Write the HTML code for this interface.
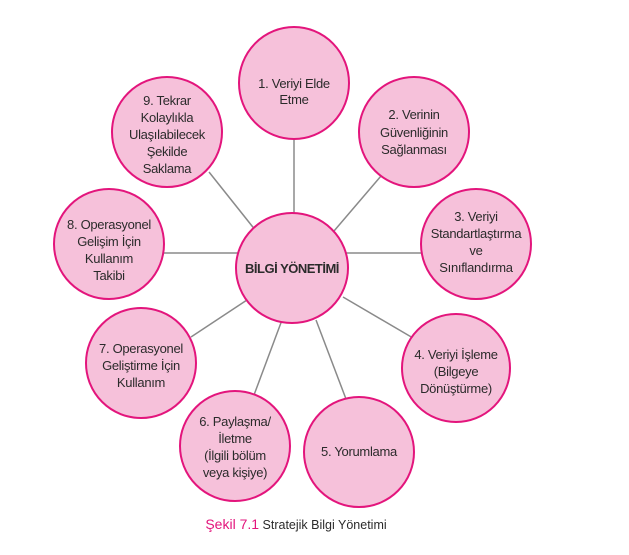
<!DOCTYPE html>
<html><head><meta charset="utf-8"><style>
body{margin:0;background:#fff;}
svg text{font-family:"Liberation Sans Narrow","Liberation Sans",sans-serif;font-size:13px;fill:#2b2b2b;text-anchor:middle;letter-spacing:-0.3px;}
</style></head><body>
<svg width="629" height="550" viewBox="0 0 629 550" xmlns="http://www.w3.org/2000/svg">
<g stroke="#8a8a8a" stroke-width="1.5">
<line x1="294" y1="139" x2="294" y2="215"/>
<line x1="381" y1="176" x2="334" y2="231"/>
<line x1="209" y1="172" x2="256" y2="231"/>
<line x1="164" y1="253" x2="240" y2="253"/>
<line x1="346" y1="253" x2="424" y2="253"/>
<line x1="191" y1="337" x2="250" y2="298"/>
<line x1="254" y1="395" x2="282" y2="320"/>
<line x1="346" y1="399" x2="316" y2="320"/>
<line x1="413" y1="338" x2="343" y2="297"/>
</g>
<g fill="#f6c1da" stroke="#e3157c" stroke-width="2">
<ellipse cx="294" cy="83" rx="55" ry="56"/>
<ellipse cx="414" cy="132" rx="55" ry="55"/>
<ellipse cx="476" cy="244" rx="55" ry="55"/>
<ellipse cx="456" cy="368" rx="54" ry="54"/>
<ellipse cx="359" cy="452" rx="55" ry="55"/>
<ellipse cx="235" cy="446" rx="55" ry="55"/>
<ellipse cx="141" cy="363" rx="55" ry="55"/>
<ellipse cx="109" cy="244" rx="55" ry="55"/>
<ellipse cx="167" cy="132" rx="55" ry="55"/>
<ellipse cx="292" cy="268" rx="56" ry="55"/>
</g>
<text x="294" y="88">1. Veriyi Elde</text>
<text x="294" y="104">Etme</text>
<text x="414" y="119">2. Verinin</text>
<text x="414" y="137">Güvenliğinin</text>
<text x="414" y="154">Sağlanması</text>
<text x="476" y="221">3. Veriyi</text>
<text x="476" y="238">Standartlaştırma</text>
<text x="476" y="255">ve</text>
<text x="476" y="272">Sınıflandırma</text>
<text x="456" y="359">4. Veriyi İşleme</text>
<text x="456" y="376">(Bilgeye</text>
<text x="456" y="393">Dönüştürme)</text>
<text x="359" y="456">5. Yorumlama</text>
<text x="235" y="426">6. Paylaşma/</text>
<text x="235" y="443">İletme</text>
<text x="235" y="460">(İlgili bölüm</text>
<text x="235" y="477">veya kişiye)</text>
<text x="141" y="353">7. Operasyonel</text>
<text x="141" y="370">Geliştirme İçin</text>
<text x="141" y="387">Kullanım</text>
<text x="109" y="229">8. Operasyonel</text>
<text x="109" y="246">Gelişim İçin</text>
<text x="109" y="263">Kullanım</text>
<text x="109" y="280">Takibi</text>
<text x="167" y="105">9. Tekrar</text>
<text x="167" y="122">Kolaylıkla</text>
<text x="167" y="139">Ulaşılabilecek</text>
<text x="167" y="156">Şekilde</text>
<text x="167" y="173">Saklama</text>
<text x="292" y="273" style="font-weight:bold;font-size:13px;letter-spacing:-0.5px">BİLGİ YÖNETİMİ</text>
<text x="296" y="529" style="font-size:12.5px;letter-spacing:0"><tspan fill="#e3157c" style="font-size:14px">Şekil 7.1</tspan> Stratejik Bilgi Yönetimi</text>
</svg>
</body></html>
